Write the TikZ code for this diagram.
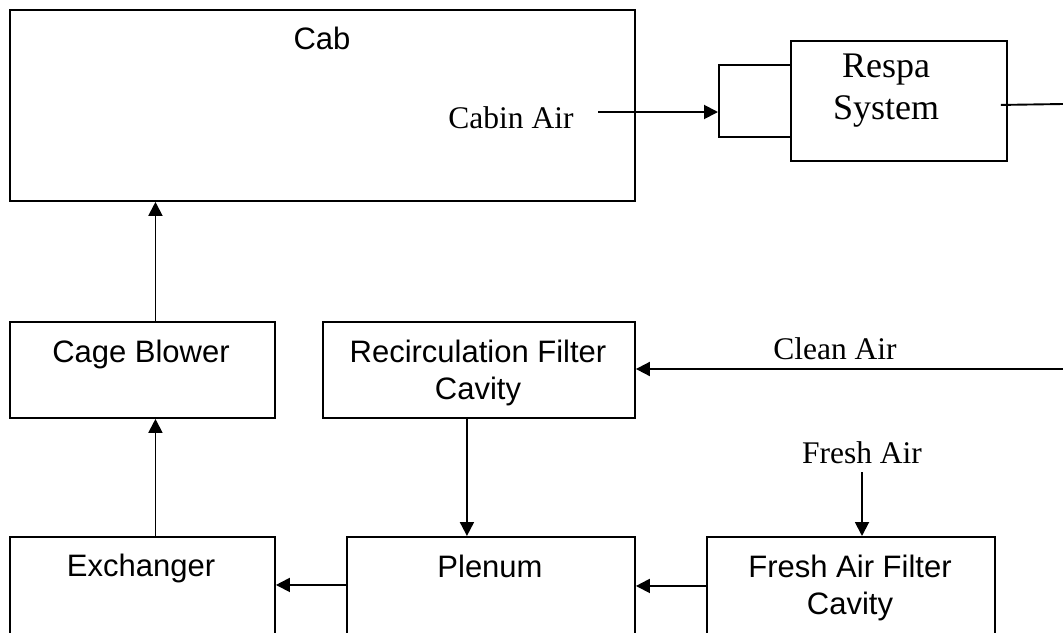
\documentclass[tikz,border=0pt]{standalone}
\usepackage{fontspec}
\setmainfont{Liberation Serif}
\newfontfamily\arialfont{Liberation Sans}
\usetikzlibrary{arrows.meta}
\tikzset{
  box/.style={draw, line width=1.9pt, rectangle, inner sep=0pt, anchor=north west},
  sanslbl/.style={font=\arialfont\fontsize{31}{37}\selectfont, inner sep=0pt, anchor=base, align=center},
  seriflbl/.style={font=\fontsize{31.5}{36}\selectfont, inner sep=0pt, anchor=base, align=center},
  respalbl/.style={font=\fontsize{36}{42}\selectfont, inner sep=0pt, anchor=base, align=center},
  arr/.style={line width=1.9pt, -{Triangle[length=14pt,width=14pt]}},
  plain/.style={line width=1.9pt}
}
\begin{document}
\begin{tikzpicture}[x=1pt,y=-1pt]
\useasboundingbox (0,0) rectangle (1063,632);
\clip (0,0) rectangle (1063,632);
\fill[white] (0,0) rectangle (1063,632);
% boxes
\node[box, minimum width=625pt, minimum height=191pt] (cab) at (9,9) {};
\node[box, minimum width=216pt, minimum height=120pt] (respa) at (790,40) {};
\node[box, minimum width=72pt, minimum height=72pt] (inlet) at (718,64) {};
\node[box, minimum width=265pt, minimum height=96pt] (cage) at (9,321) {};
\node[box, minimum width=312pt, minimum height=96pt] (recirc) at (322,321) {};
\node[box, minimum width=265pt, minimum height=104pt] (exch) at (9,536) {};
\node[box, minimum width=288pt, minimum height=104pt] (plenum) at (346,536) {};
\node[box, minimum width=288pt, minimum height=104pt] (fresh) at (706,536) {};
% labels (base anchor = last line baseline)
\node[sanslbl] (cabtxt) at (322,49) {Cab};
\node[seriflbl] (cabinair) at (511,128) {Cabin Air};
\node[respalbl] (respatxt) at (886,119) {Respa\\System};
\node[sanslbl] (cagetxt) at (141,362) {Cage Blower};
\node[sanslbl] (recirctxt) at (478,399) {Recirculation Filter\\Cavity};
\node[sanslbl] (exchtxt) at (141,576) {Exchanger};
\node[sanslbl] (plenumtxt) at (490,577) {Plenum};
\node[sanslbl] (freshtxt) at (850,614) {Fresh Air Filter\\Cavity};
\node[seriflbl] (cleanair) at (835,359) {Clean Air};
\node[seriflbl] (freshair) at (862,463) {Fresh Air};
% free ends
\coordinate (cabinsrc) at (598,112);
\coordinate (respaout) at (1063,104);
\coordinate (cleansrc) at (1063,369);
\coordinate (freshsrc) at (862,472);
% connectors
\draw[arr] (cabinsrc) -- (cabinsrc -| inlet.west);
\draw[plain] ([xshift=-7pt,yshift=-4pt]respa.east) -- (respaout);
\draw[arr] (cleansrc) -- (cleansrc -| recirc.east);
\draw[arr] (freshsrc) -- (freshsrc |- fresh.north);
\draw[arr] ([xshift=13pt]cage.north) -- ([xshift=13pt]cage.north |- cab.south);
\draw[arr] ([xshift=13pt]exch.north) -- ([xshift=13pt]exch.north |- cage.south);
\draw[arr] ([xshift=-12pt]recirc.south) -- ([xshift=-12pt]recirc.south |- plenum.north);
\draw[arr] ([yshift=3pt]fresh.west) -- ([yshift=3pt]fresh.west -| plenum.east);
\draw[arr] ([yshift=4pt]plenum.west) -- ([yshift=4pt]plenum.west -| exch.east);
\end{tikzpicture}
\end{document}
